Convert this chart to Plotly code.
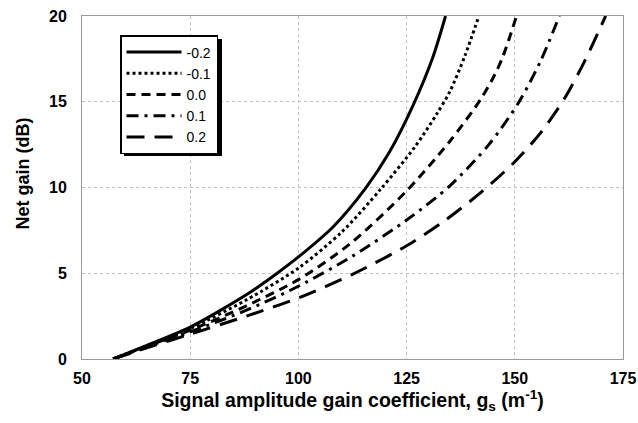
import plotly.graph_objects as go

names = ["-0.2", "-0.1", "0.0", "0.1", "0.2"]

x_m02 = [57.2, 65, 75, 88.6, 95.1, 100, 108, 115.5, 121, 126.6, 131, 134]
y_m02 = [0, 0.8, 1.86, 3.85, 5.0, 5.95, 7.7, 9.95, 12.05, 14.85, 17.55, 20]

x_m01 = [57.2, 65, 75, 88, 100, 110, 119, 127, 132, 135, 138.5, 141.7]
y_m01 = [0, 0.78, 1.78, 3.45, 5.3, 7.4, 9.9, 12.4, 14.3, 15.6, 17.7, 20]

x_p00 = [57.2, 65, 75, 88, 100, 112, 125, 135, 142, 145, 147.2, 150.4]
y_p00 = [0, 0.75, 1.68, 3.1, 4.63, 6.73, 9.8, 12.7, 15.1, 16.4, 17.6, 20]

x_p01 = [57.2, 65, 75, 88, 100, 112.5, 125, 135, 144, 151, 156, 160.3]
y_p01 = [0, 0.72, 1.58, 2.85, 4.24, 6.0, 8.1, 10.1, 12.5, 15.0, 17.4, 20]

x_p02 = [57.2, 65, 75, 88, 100, 112.5, 125, 134, 142.6, 150, 156, 161.5, 166, 171]
y_p02 = [0, 0.65, 1.45, 2.5, 3.56, 4.94, 6.6, 8.1, 9.8, 11.5, 13.2, 15.2, 17.3, 20]

x_ticks = [50, 75, 100, 125, 150, 175]
y_ticks = [0, 5, 10, 15, 20]

series = [(x_m02, y_m02), (x_m01, y_m01), (x_p00, y_p00), (x_p01, y_p01), (x_p02, y_p02)]
dashes = ["solid", "3px,3px", "9px,6px", "12px,6px,3px,6px", "18px,10px"]

fig = go.Figure()
for (xs, ys), nm, ds in zip(series, names, dashes):
    fig.add_trace(go.Scatter(x=xs, y=ys, name=nm, mode="lines",
                             line=dict(color="black", width=3, dash=ds, shape="spline", smoothing=0.8)))

W, H = 638, 423
L, R, T, B = 82, 623, 16, 359          # plot area in pixels
def px(v):
    return (v - L) / (R - L)
def py(v):
    return (B - v) / (B - T)

# legend drop shadow
fig.add_shape(type="rect", xref="paper", yref="paper",
              x0=px(124), x1=px(222), y0=py(156), y1=py(39),
              fillcolor="black", line=dict(width=0), layer="above")

axis_common = dict(showline=True, linecolor="#999999", linewidth=1, mirror=True,
                   showgrid=True, gridcolor="#c0c0c0", gridwidth=1, griddash="dot",
                   zeroline=False, ticks="", automargin=False,
                   ticklabeloverflow="allow",
                   tickfont=dict(family="Liberation Sans, Arial", size=16, color="black", weight="bold"))

fig.update_layout(
    width=W, height=H,
    margin=dict(l=L, r=W - R, t=T, b=H - B),
    paper_bgcolor="white", plot_bgcolor="white",
    font=dict(family="Liberation Sans, Arial", color="black"),
    xaxis=dict(range=[50, 175], tickvals=x_ticks, ticktext=[str(v) for v in x_ticks],
               ticklabelstandoff=5,
               title=dict(text="<b>Signal amplitude gain coefficient, g<sub>s</sub> (m<sup>-1</sup>)</b>",
                          font=dict(size=19.5), standoff=3),
               **axis_common),
    yaxis=dict(range=[0, 20], tickvals=y_ticks, ticktext=[str(v) for v in y_ticks],
               ticklabelstandoff=11,
               **axis_common),
    annotations=[dict(text="<b>Net gain (dB)</b>", xref="paper", yref="paper",
                      x=px(22.5), y=py(174), xanchor="center", yanchor="middle",
                      textangle=-90, showarrow=False,
                      font=dict(family="Liberation Sans, Arial", size=18, color="black"))],
    legend=dict(x=px(120), y=py(35), xanchor="left", yanchor="top",
                bgcolor="white", bordercolor="black", borderwidth=1.5,
                font=dict(family="Liberation Sans, Arial", size=14, color="black"),
                itemwidth=55, tracegroupgap=0),
    showlegend=True,
)

fig.write_html("out.html", config={"displayModeBar": False},
               post_script="document.body.style.margin='0px';")
